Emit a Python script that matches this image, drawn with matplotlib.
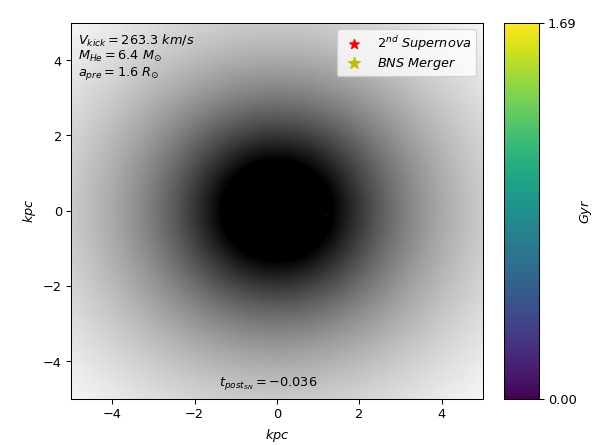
import numpy as np
import matplotlib.pyplot as plt

# values
v_kick = 263.3
m_he = 6.4
a_pre = 1.6
t_post_sn = -0.036
t_max = 1.69

# binary position (kpc) and time (Gyr)
bin_x = [1.17]
bin_y = [-0.1]
bin_t = [0.0]

# plummer-like potential of the host galaxy, drawn in grey
plummer_b = 2.0
extent = 5.0
pot_min, pot_max = -0.415, -0.125

grid = np.linspace(-extent, extent, 400)
X, Y = np.meshgrid(grid, grid)
pot = -1.0 / np.sqrt(X**2 + Y**2 + plummer_b**2)

fig = plt.figure(figsize=(6.4, 4.8), dpi=92.8)
ax = fig.add_axes([0.1195, 0.1034, 0.6936, 0.8449])
cax = fig.add_axes([0.8485, 0.1034, 0.059, 0.8449])

ax.imshow(pot, cmap='gray', vmin=pot_min, vmax=pot_max, origin='lower',
          extent=[-extent, extent, -extent, extent], aspect='auto')

sc = ax.scatter(bin_x, bin_y, c=bin_t, cmap='viridis', vmin=0, vmax=t_max,
                s=3, lw=0, alpha=0.6)

# legend entries only
ax.scatter([], [], marker='*', color='r', s=60, label=r'$2^{nd}\ Supernova$')
ax.scatter([], [], marker='*', color='y', s=90, label=r'$BNS\ Merger$')
ax.legend(loc='upper right', labelspacing=0.25, borderpad=0.35)

ax.text(0.017, 0.975,
        r'$V_{kick} = %.1f\ km/s$' % v_kick + '\n'
        + r'$M_{He} = %.1f\ M_{\odot}$' % m_he + '\n'
        + r'$a_{pre} = %.1f\ R_{\odot}$' % a_pre,
        transform=ax.transAxes, ha='left', va='top', linespacing=1.05)
ax.text(0.48, 0.02, r'$t_{post_{SN}} = %.3f$' % t_post_sn,
        transform=ax.transAxes, ha='center', va='bottom')

ax.set_xlim(-extent, extent)
ax.set_ylim(-extent, extent)
ax.set_xticks([-4, -2, 0, 2, 4])
ax.set_yticks([-4, -2, 0, 2, 4])
ax.set_xlabel(r'$kpc$')
ax.set_ylabel(r'$kpc$')

cbar = fig.colorbar(sc, cax=cax)
cbar.solids.set_alpha(1)
cbar.set_ticks([0, t_max])
cbar.set_ticklabels(['0.00', '%.2f' % t_max])
cbar.set_label(r'$Gyr$', labelpad=1)

fig.savefig('out.png', dpi=92.8)
